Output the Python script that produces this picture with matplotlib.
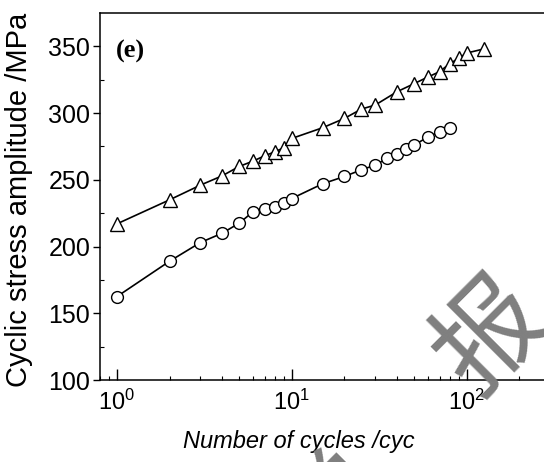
import numpy as np
import matplotlib
matplotlib.use("Agg")
import matplotlib.pyplot as plt

plt.rcParams['font.family'] = ['Liberation Sans', 'DejaVu Sans']
plt.rcParams['mathtext.fontset'] = 'custom'
plt.rcParams['mathtext.rm'] = 'Liberation Sans'
plt.rcParams['mathtext.it'] = 'Liberation Sans:italic'

# cycles / stress amplitude
cycles_tri = [1, 2, 3, 4, 5, 6, 7, 8, 9, 10, 15, 20, 25, 30, 40, 50, 60, 70, 80, 90, 100, 125]
stress_tri = [217, 235, 246, 253, 260, 264, 268, 271, 274, 281, 289, 296, 303, 306, 316, 322,
              327, 331, 337, 341, 345, 348]

cycles_circ = [1, 2, 3, 4, 5, 6, 7, 8, 9, 10, 15, 20, 25, 30, 35, 40, 45, 50, 60, 70, 80]
stress_circ = [162.5, 189, 203, 210, 217.5, 226, 228, 230, 233, 236, 247, 252.5, 257.5, 261,
               266, 269.5, 273, 276, 282, 286, 289]

x_ticks = [1, 10, 100]
x_ticklabels = [r'$10^0$', r'$10^1$', r'$10^2$']
y_ticks = [100, 150, 200, 250, 300, 350]

fig = plt.figure(figsize=(5.44, 4.62), dpi=100)
ax = fig.add_axes([100 / 544, 82 / 462, 450 / 544, 367 / 462])

ax.plot(cycles_tri, stress_tri, '-', color='black', lw=1.2, marker='^', ms=10.5,
        mfc='white', mec='black', mew=1.0)
ax.plot(cycles_circ, stress_circ, '-', color='black', lw=1.2, marker='o', ms=8.5,
        mfc='white', mec='black', mew=1.0)

ax.set_xscale('log')
ax.set_xlim(0.8, 300)
ax.set_ylim(100, 375)
ax.set_xticks(x_ticks)
ax.set_xticklabels(x_ticklabels)
ax.set_yticks(y_ticks)
ax.set_yticks([125, 175, 225, 275, 325], minor=True)

ax.tick_params(axis='x', which='major', direction='in', length=8, width=1, labelsize=17, pad=7)
ax.tick_params(axis='x', which='minor', direction='in', length=3, width=0.8)
ax.tick_params(axis='y', which='major', direction='out', length=5, width=1, labelsize=18, pad=2)
ax.tick_params(axis='y', which='minor', direction='in', length=3, width=0.8)

for s in ax.spines.values():
    s.set_linewidth(1.1)

ax.set_xlabel('Number of cycles /cyc', fontsize=17, style='italic')
ax.xaxis.set_label_coords(0.442, -0.135)
ax.set_ylabel('Cyclic stress amplitude /MPa', fontsize=21)
ax.yaxis.set_label_coords(-0.148, 0.49)

ax.text(0.036, 0.894, '(e)', transform=ax.transAxes, fontsize=19, fontweight='bold',
        family='Liberation Serif', va='center', ha='left')

# grey watermark characters
fig.text(0.905, 0.27, '报', fontsize=78, color='#7f7f7f', rotation=45,
         ha='center', va='center', family=['Noto Sans CJK SC', 'DejaVu Sans'], zorder=10)
fig.text(0.61, -0.10, '学', fontsize=76, color='#7f7f7f', rotation=45,
         ha='center', va='center', family=['Noto Sans CJK SC', 'DejaVu Sans'], zorder=10)

fig.savefig('out.png', dpi=100)
